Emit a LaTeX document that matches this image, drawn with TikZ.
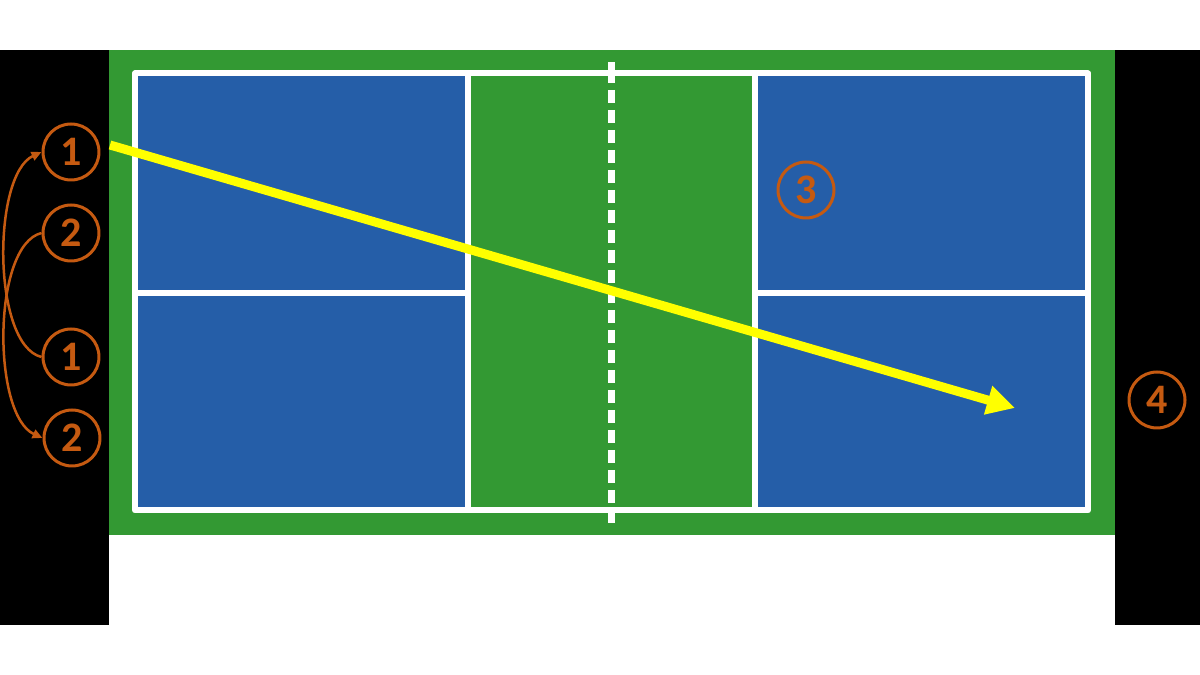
\documentclass[tikz,border=0pt]{standalone}
\usepackage{fontspec}
\setmainfont{Carlito}
\usetikzlibrary{arrows.meta}
\definecolor{courtblue}{RGB}{37,94,168}
\definecolor{courtgreen}{RGB}{51,153,51}
\definecolor{spotorange}{RGB}{197,90,17}
\definecolor{ballyellow}{RGB}{255,255,0}
\tikzset{
  spot/.style={circle,draw=spotorange,line width=3pt,minimum size=56pt,inner sep=0pt,
    text=spotorange,font=\fontsize{42}{42}\selectfont\bfseries},
  courtline/.style={white,line width=6pt},
  switch/.style={spotorange,line width=2.5pt,-{Triangle[length=10pt,width=9pt]}}
}
\begin{document}
\begin{tikzpicture}[x=1pt,y=1pt,line join=round]
\useasboundingbox (0,0) rectangle (1200,675);
\fill[white] (0,0) rectangle (1200,675);
% side walls and surround
\fill[black] (0,50) rectangle (109,625);
\fill[black] (1115,50) rectangle (1200,625);
\fill[courtgreen] (109,140) rectangle (1115,625);
% service boxes
\fill[courtblue] (135,164.5) rectangle (468,601.5);
\fill[courtblue] (755,164.5) rectangle (1088,601.5);
% court lines
\draw[courtline] (135,164.5) rectangle (1088,601.5);
\draw[courtline] (468,164.5) -- (468,601.5);
\draw[courtline] (755,164.5) -- (755,601.5);
\draw[courtline] (135,382) -- (468,382);
\draw[courtline] (755,382) -- (1088,382);
% net
\draw[white,line width=7pt] (611.5,613) -- (611.5,605);
\draw[white,line width=7pt,dash pattern=on 13pt off 7pt] (611.5,605) -- (611.5,150);
% players
\node[spot] (upone) at (71,523) {1};
\node[spot] (uptwo) at (71,442) {2};
\node[spot] (lowone) at (71,318) {1};
\node[spot] (lowtwo) at (72,237) {2};
\node[spot] (three) at (806,485) {3};
\node[spot] (four) at (1157,275) {4};
\draw[switch] (lowone.west) .. controls (-8,330) and (-8,500) .. (upone.west);
\draw[switch] (uptwo.west) .. controls (-8,430) and (-8,260) .. (lowtwo.west);
% serve
\coordinate (serve) at (110,530);
\coordinate (land) at (1015,267);
\draw[ballyellow,line width=9pt,-{Triangle[length=28pt,width=28pt]}] (serve) -- (land);
\end{tikzpicture}
\end{document}
